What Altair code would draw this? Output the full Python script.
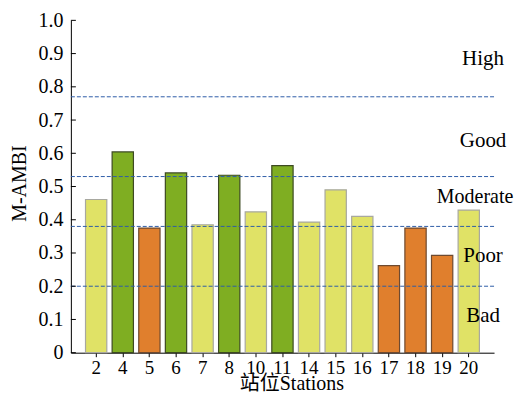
import altair as alt
import pandas as pd

stations = ["2", "4", "5", "6", "7", "8", "10", "11", "14", "15", "16", "17", "18", "19", "20"]
mambi = [0.461, 0.604, 0.375, 0.541, 0.385, 0.534, 0.424, 0.563, 0.393, 0.490, 0.410, 0.262, 0.375, 0.293, 0.429]
status = ["Moderate", "Good", "Poor", "Good", "Moderate", "Good", "Moderate", "Good",
          "Moderate", "Moderate", "Moderate", "Poor", "Poor", "Poor", "Moderate"]

thresholds = [0.77, 0.53, 0.38, 0.20]
class_names = ["High", "Good", "Poor", "Bad"]
class_pos = [0.883, 0.637, 0.292, 0.109]
mid_name = ["Moderate"]
mid_pos = [0.468]
y_ticks = [0.0, 0.1, 0.2, 0.3, 0.4, 0.5, 0.6, 0.7, 0.8, 0.9, 1.0]

FONT = "Liberation Serif, Times New Roman, Noto Sans CJK SC"

bars_df = pd.DataFrame({"station": stations, "value": mambi, "status": status})
thr_df = pd.DataFrame({"t": thresholds})
lab_df = pd.DataFrame({"name": class_names, "pos": class_pos})
mid_df = pd.DataFrame({"name": mid_name, "pos": mid_pos})
tick_df = pd.DataFrame({"v": y_ticks})

yscale = alt.Scale(domain=[0, 1], nice=False)
yaxis = alt.Axis(title="M-AMBI", values=y_ticks, ticks=False, labelPadding=8,
                 labelOverlap=False,
                 labelExpr="datum.value == 0 ? '0' : format(datum.value, '.1f')",
                 domainColor="black", labelFontSize=20, grid=False,
                 titleFontSize=20, titleFontWeight="normal",
                 titleAngle=270, titleX=-51, titleY=163,
                 titleBaseline="middle", titleAlign="center")

bars = alt.Chart(bars_df).mark_bar(strokeWidth=1.2).encode(
    x=alt.X("station:N", sort=stations,
            scale=alt.Scale(paddingInner=0.2, paddingOuter=0.55),
            axis=alt.Axis(title="站位Stations", labelAngle=0, tickSize=4, labelPadding=2,
                          tickColor="black", domainColor="black", labelFontSize=19,
                          labelOverlap=False,
                          titleFontSize=20, titleFontWeight="normal",
                          titleX=221, titleY=31, titleBaseline="middle", titleAlign="center")),
    y=alt.Y("value:Q", scale=yscale, axis=yaxis),
    color=alt.Color("status:N", legend=None,
                    scale=alt.Scale(domain=["Good", "Moderate", "Poor"],
                                    range=["#7fae22", "#e0e266", "#e07f2d"])),
    stroke=alt.Stroke("status:N", legend=None,
                      scale=alt.Scale(domain=["Good", "Moderate", "Poor"],
                                      range=["#3d4a22", "#a8a8a0", "#6e4a30"])),
)

rules = alt.Chart(thr_df).mark_rule(color="#2f5da8", strokeDash=[4, 2], strokeWidth=1).encode(
    y=alt.Y("t:Q", scale=yscale, axis=yaxis)
)

yticks = alt.Chart(tick_df).mark_rule(color="black", strokeWidth=1).encode(
    y=alt.Y("v:Q", scale=yscale, axis=yaxis), x=alt.value(0), x2=alt.value(5)
)

labels = alt.Chart(lab_df).mark_text(font=FONT, fontSize=21, color="black", align="center",
                                     baseline="middle").encode(
    y=alt.Y("pos:Q", scale=yscale, axis=yaxis), x=alt.value(413), text="name:N"
)

mid_label = alt.Chart(mid_df).mark_text(font=FONT, fontSize=20, color="black", align="center",
                                        baseline="middle").encode(
    y=alt.Y("pos:Q", scale=yscale, axis=yaxis), x=alt.value(405), text="name:N"
)

chart = alt.layer(bars, rules, yticks, labels, mid_label).properties(
    width=424, height=333,
    autosize=alt.AutoSizeParams(type="none"),
    padding={"left": 63, "top": 12, "right": 20, "bottom": 40},
).configure(font=FONT).configure_axis(
    labelFont=FONT, titleFont=FONT, labelColor="black", titleColor="black", grid=False
).configure_view(stroke=None)

chart.save("out.html", embed_options={"renderer": "svg", "actions": False})
